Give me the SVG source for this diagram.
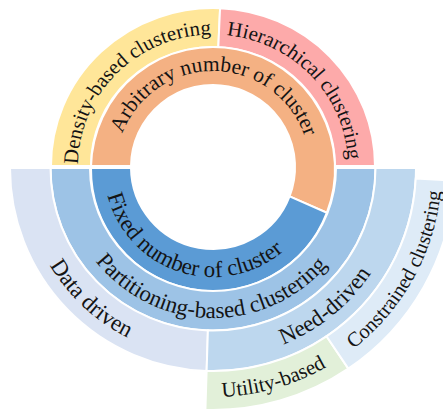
<svg xmlns="http://www.w3.org/2000/svg" xmlns:xlink="http://www.w3.org/1999/xlink" width="443" height="412" viewBox="0 0 443 412">
<style>
.seg { stroke: #ffffff; stroke-width: 2; }
.t { font-family: "Liberation Serif", "Times New Roman", serif; fill: #141414; text-anchor: middle; }
</style>
<defs>
<path id="pDensity" d="M -97.11 93.78 A 135 135 0 0 1 93.78 -97.11"/>
<path id="pHier" d="M -91.20 -99.53 A 135 135 0 0 1 94.62 96.29"/>
<path id="pArb" d="M 116.06 164.61 A 97 97 0 0 1 310 168"/>
<path id="pFixed" d="M 108.49 137.04 A 109 109 0 0 0 316.37 202.59"/>
<path id="pPart" d="M 63 168 A 150 150 0 0 0 362.91 173.23"/>
<path id="pData" d="M 74.04 38.42 A 190 190 0 0 0 351.96 297.58"/>
<path id="pNeed" d="M 65.34 287.57 A 190 190 0 0 0 360.66 48.43"/>
<path id="pUtil" d="M -7.13 231.12 A 229 229 0 0 0 433.13 104.88"/>
<path id="pCons" d="M 101.98 368.29 A 229 229 0 0 0 324.02 -32.29"/>
</defs>
<rect width="443" height="412" fill="#ffffff"/>

<g transform="translate(213,166) scale(1,0.975)">
  <g id="density">
    <path class="seg" fill="#FFE699" d="M -162 0 A 162 162 0 0 1 7.07 -161.85 L 5.32 -121.88 A 122 122 0 0 0 -122 0 Z"/>
    <text class="t" font-size="21"><textPath xlink:href="#pDensity" href="#pDensity" startOffset="50%">Density-based clustering</textPath></text>
  </g>
  <g id="hierarchical">
    <path class="seg" fill="#FDAAAA" d="M 7.07 -161.85 A 162 162 0 0 1 162 0 L 122 0 A 122 122 0 0 0 5.32 -121.88 Z"/>
    <text class="t" font-size="21"><textPath xlink:href="#pHier" href="#pHier" startOffset="50%">Hierarchical clustering</textPath></text>
  </g>
</g>

<g id="arbitrary">
  <path class="seg" fill="#F4B183" d="M 91.04 166 A 122 122 0 1 1 326.90 212.72 L 289.55 196.39 A 82 82 0 1 0 131.01 166 Z"/>
  <text class="t" font-size="21.5"><textPath xlink:href="#pArb" href="#pArb" startOffset="50%">Arbitrary number of cluster</textPath></text>
</g>
<g id="fixed">
  <path class="seg" fill="#5B9BD5" d="M 326.90 212.72 A 122 122 0 0 1 91 168 L 131 168 A 82 82 0 0 0 289.55 196.39 Z"/>
  <text class="t" font-size="23"><textPath xlink:href="#pFixed" href="#pFixed" startOffset="50%">Fixed number of cluster</textPath></text>
</g>
<g id="partitioning">
  <path class="seg" fill="#9DC3E6" d="M 50.5 168 A 162.5 162.5 0 0 0 375.5 168 L 336 168 A 123 123 0 0 1 90 168 Z"/>
  <text class="t" font-size="23"><textPath xlink:href="#pPart" href="#pPart" startOffset="50%">Partitioning-based clustering</textPath></text>
</g>
<g id="data-driven">
  <path class="seg" fill="#DAE3F3" d="M 10 168 A 203 203 0 0 0 206.62 370.90 L 207.90 330.42 A 162.5 162.5 0 0 1 50.5 168 Z"/>
  <text class="t" font-size="23"><textPath xlink:href="#pData" href="#pData" startOffset="50%">Data driven</textPath></text>
</g>
<g id="need-driven">
  <path class="seg" fill="#BDD7EE" d="M 206.62 370.90 A 203 203 0 0 0 416 168 L 375.5 168 A 162.5 162.5 0 0 1 207.90 330.42 Z"/>
  <text class="t" font-size="23"><textPath xlink:href="#pNeed" href="#pNeed" startOffset="50%">Need-driven</textPath></text>
</g>
<g id="utility-based">
  <path class="seg" fill="#E2F0D9" d="M 205.40 409.88 A 242 242 0 0 0 348.32 368.63 L 326.52 336.30 A 203 203 0 0 1 206.62 370.90 Z"/>
  <text class="t" font-size="21"><textPath xlink:href="#pUtil" href="#pUtil" startOffset="50%">Utility-based</textPath></text>
</g>
<g id="constrained">
  <path class="seg" fill="#DEEBF7" d="M 348.32 368.63 A 242 242 0 0 0 454.67 180.67 L 415.72 178.62 A 203 203 0 0 1 326.52 336.30 Z"/>
  <text class="t" font-size="20.5"><textPath xlink:href="#pCons" href="#pCons" startOffset="50%">Constrained clustering</textPath></text>
</g>
</svg>
